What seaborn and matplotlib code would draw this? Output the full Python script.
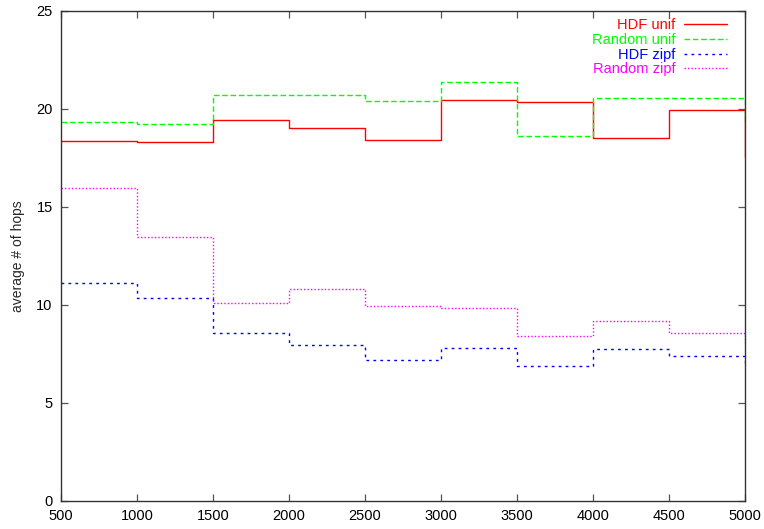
import matplotlib
matplotlib.use("Agg")
import matplotlib.pyplot as plt
import seaborn as sns
import pandas as pd

# Network size (x) and average hop counts per routing/workload combination
network_size = [500, 1000, 1500, 2000, 2500, 3000, 3500, 4000, 4500, 5000]
hdf_unif = [18.38, 18.30, 19.42, 19.03, 18.42, 20.46, 20.36, 18.50, 19.96, 17.55]
random_unif = [19.35, 19.23, 20.73, 20.73, 20.39, 21.40, 18.64, 20.55, 20.57, 19.28]
hdf_zipf = [11.14, 10.37, 8.55, 7.96, 7.19, 7.82, 6.90, 7.76, 7.40, 7.05]
random_zipf = [15.95, 13.45, 10.12, 10.80, 9.95, 9.85, 8.40, 9.18, 8.55, 8.05]

series_names = ["HDF unif", "Random unif", "HDF zipf", "Random zipf"]
series_values = [hdf_unif, random_unif, hdf_zipf, random_zipf]
x_ticks = [500, 1000, 1500, 2000, 2500, 3000, 3500, 4000, 4500, 5000]
y_ticks = [0, 5, 10, 15, 20, 25]

colors = ["#ff0000", "#00ff00", "#0000ff", "#ff00ff"]
styles = ["-", (0, (4, 2)), (0, (2, 3)), (0, (1, 1.5))]

sns.set_theme(style="white")
plt.rcParams["font.family"] = ["Liberation Sans", "DejaVu Sans"]

fig = plt.figure(figsize=(7.64, 5.29), dpi=100)
ax = fig.add_axes([61 / 764, 28 / 529, (745 - 61) / 764, (501 - 11) / 529])

for name, vals, c, ls in zip(series_names, series_values, colors, styles):
    df = pd.DataFrame({"nodes": network_size, "hops": vals})
    sns.lineplot(data=df, x="nodes", y="hops", ax=ax, color=c, linestyle=ls,
                 linewidth=1.0, drawstyle="steps-post", label=name)

ax.set_xlim(500, 5000)
ax.set_ylim(0, 25)
ax.set_xticks(x_ticks)
ax.set_yticks(y_ticks)
ax.set_xlabel("")
ax.set_ylabel("average # of hops", fontsize=10, labelpad=8)

for side in ["left", "right", "top", "bottom"]:
    ax.spines[side].set_visible(True)
    ax.spines[side].set_color("#333333")
    ax.spines[side].set_linewidth(1.0)

ax.tick_params(axis="both", which="major", direction="in", length=5, width=0.9,
               color="#555555", top=True, right=True, bottom=True, left=True,
               labelsize=10.5, labelcolor="black", pad=6)

leg = ax.legend(loc="upper right", frameon=False, markerfirst=False,
                labelcolor="linecolor", fontsize=10.5, handlelength=2.9,
                handletextpad=0.6, labelspacing=0.05, borderaxespad=0.3,
                bbox_to_anchor=(0.988, 1.006))

fig.savefig("out.png", dpi=100)
